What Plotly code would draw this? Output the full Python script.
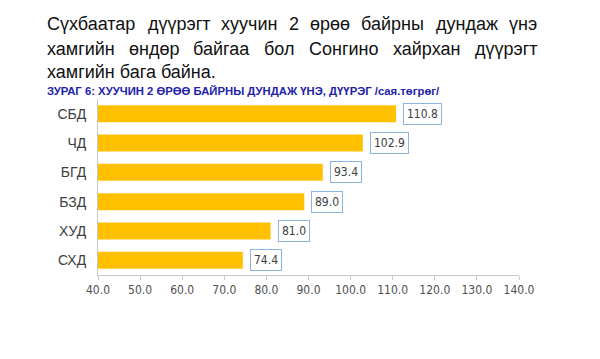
import plotly.graph_objects as go

categories = ["СБД", "ЧД", "БГД", "БЗД", "ХУД", "СХД"]
values = [110.8, 102.9, 93.4, 89.0, 81.0, 74.4]
tick_vals = [40, 50, 60, 70, 80, 90, 100, 110, 120, 130, 140]
tick_text = ["40.0", "50.0", "60.0", "70.0", "80.0", "90.0", "100.0", "110.0", "120.0", "130.0", "140.0"]

title_lines = [
    "Сүхбаатар дүүрэгт хуучин 2 өрөө байрны дундаж үнэ",
    "хамгийн өндөр байгаа бол Сонгино хайрхан дүүрэгт",
    "хамгийн бага байна.",
]
title_justify = [True, True, False]
title_y = [25, 50, 73]
subtitle = "ЗУРАГ 6: ХУУЧИН 2 ӨРӨӨ БАЙРНЫ ДУНДАЖ ҮНЭ, ДҮҮРЭГ /сая.төгрөг/"

# the page body has an 8px default margin, so the figure is drawn offset by 8px
OFF = 8
W, H = 600, 359
PLOT_L, PLOT_R, PLOT_T, PLOT_B = 98, 519, 99.4, 274.6   # target screen pixels
ML, MT = PLOT_L - OFF, PLOT_T - OFF
MR, MB = W - (PLOT_R - OFF), H - (PLOT_B - OFF)
PW, PH = PLOT_R - PLOT_L, PLOT_B - PLOT_T
TITLE_SIZE = 18
TEXT_LEFT, TEXT_RIGHT = 45, 535

def px(x):
    return (x - PLOT_L) / PW

def py(y):
    return (PLOT_B - y) / PH

# approximate Arial/Liberation Sans advance widths (em) for text justification
CW = {"а": .556, "б": .573, "в": .531, "г": .365, "д": .583, "е": .556, "ж": .669, "з": .458,
      "и": .559, "й": .559, "к": .438, "л": .583, "м": .688, "н": .552, "о": .556, "п": .542,
      "р": .556, "с": .5, "т": .458, "у": .5, "х": .5, "ч": .521, "ы": .711, "э": .51, "ү": .5,
      "ө": .556, "ь": .51, "С": .722, "2": .556, ".": .278, " ": .278}

def word_w(w):
    return sum(CW.get(ch, .556) for ch in w) * TITLE_SIZE

narrow = "Liberation Sans Narrow, DejaVu Sans Condensed, Arial Narrow, sans-serif"
sans = "Liberation Sans, Arial, Helvetica, sans-serif"

fig = go.Figure(go.Bar(
    x=values, y=categories, orientation="h",
    marker=dict(color="#FFC000", line=dict(width=0)),
))

annotations = []
for v, c in zip(values, categories):
    annotations.append(dict(
        x=v, y=c, xref="x", yref="y", text=f"{v:.1f}", showarrow=False,
        xanchor="left", xshift=7, font=dict(family=narrow, size=12, color="#404040"),
        bordercolor="#8DB3E2", borderwidth=1, borderpad=3, bgcolor="white",
    ))

for line, just, yy in zip(title_lines, title_justify, title_y):
    if just:
        words = line.split(" ")
        widths = [word_w(w) for w in words]
        gap = (TEXT_RIGHT - TEXT_LEFT - sum(widths)) / (len(words) - 1)
        xx = TEXT_LEFT
        for w, ww in zip(words, widths):
            annotations.append(dict(
                x=px(xx), y=py(yy), xref="paper", yref="paper", text=w, showarrow=False,
                xanchor="left", yanchor="middle",
                font=dict(family=sans, size=TITLE_SIZE, color="#111111"),
            ))
            xx += ww + gap
    else:
        annotations.append(dict(
            x=px(TEXT_LEFT), y=py(yy), xref="paper", yref="paper", text=line, showarrow=False,
            xanchor="left", yanchor="middle",
            font=dict(family=sans, size=TITLE_SIZE, color="#111111"),
        ))

annotations.append(dict(
    x=px(45), y=py(91), xref="paper", yref="paper", text=f"<b>{subtitle}</b>",
    showarrow=False, xanchor="left", yanchor="middle",
    font=dict(family=sans, size=11.3, color="#2222AA"),
))

fig.update_layout(
    width=W, height=H,
    margin=dict(l=ML, r=MR, t=MT, b=MB, autoexpand=False),
    paper_bgcolor="white", plot_bgcolor="white",
    bargap=0.42,
    showlegend=False,
    xaxis=dict(
        range=[40, 140], tickvals=tick_vals, ticktext=tick_text, automargin=False,
        showgrid=False, zeroline=False, showline=True, linecolor="#C8C8C8", linewidth=1,
        ticks="outside", ticklen=4, tickcolor="#C8C8C8",
        tickfont=dict(family=narrow, size=12, color="#505050"),
    ),
    yaxis=dict(
        categoryorder="array", categoryarray=categories[::-1], automargin=False,
        showgrid=False, zeroline=False, showline=True, linecolor="#C8C8C8", linewidth=1,
        ticks="", ticklabelstandoff=8,
        tickfont=dict(family=sans, size=14, color="#404040"),
    ),
    annotations=annotations,
    shapes=[
        dict(type="line", xref="paper", yref="paper", x0=px(595), x1=px(595), y0=py(285), y1=py(359),
             line=dict(color="#E0E0E0", width=1)),
        dict(type="line", xref="paper", yref="paper", x0=px(598), x1=px(598), y0=py(285), y1=py(359),
             line=dict(color="#E0E0E0", width=1)),
    ],
)

fig.write_html("out.html")
